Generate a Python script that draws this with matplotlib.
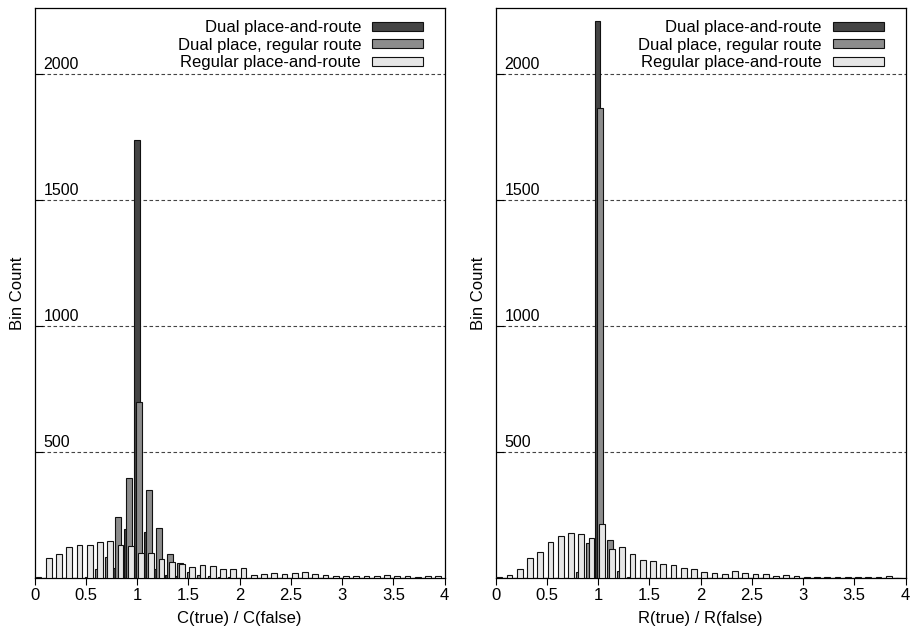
import matplotlib
matplotlib.use('Agg')
import matplotlib.pyplot as plt
import numpy as np
from matplotlib.transforms import blended_transform_factory, offset_copy

plt.rcParams['font.family'] = ['Liberation Sans', 'DejaVu Sans']

# ---- data (bin count per 0.1-wide bin, bins starting at 0.0 ... 3.9) ----
bin_starts = np.arange(40) / 10.0

c_dual_pr = [0, 0, 0, 0, 0, 0, 0, 0, 38, 193, 1738, 181, 36, 11, 7, 0, 0, 0, 0, 0,
             0, 0, 0, 0, 0, 0, 0, 0, 0, 0, 0, 0, 0, 0, 0, 0, 0, 0, 0, 0]
c_dual_place = [0, 0, 0, 0, 0, 3, 34, 82, 242, 396, 698, 349, 197, 94, 58, 22, 13, 7, 3, 3,
                0, 0, 0, 0, 0, 0, 0, 0, 0, 0, 0, 0, 0, 0, 0, 0, 0, 0, 0, 0]
c_regular = [4, 79, 94, 124, 131, 132, 144, 145, 130, 127, 98, 98, 75, 65, 57, 44, 50, 48, 36, 36,
             41, 13, 17, 21, 15, 19, 24, 15, 13, 9, 8, 8, 9, 8, 11, 7, 8, 4, 9, 9]

r_dual_pr = [0, 0, 0, 0, 0, 0, 0, 0, 0, 0, 2210, 0, 0, 0, 0, 0, 0, 0, 0, 0,
             0, 0, 0, 0, 0, 0, 0, 0, 0, 0, 0, 0, 0, 0, 0, 0, 0, 0, 0, 0]
r_dual_place = [0, 0, 0, 0, 0, 0, 0, 0, 24, 138, 1865, 149, 26, 3, 0, 0, 0, 0, 0, 0,
                0, 0, 0, 0, 0, 0, 0, 0, 0, 0, 0, 0, 0, 0, 0, 0, 0, 0, 0, 0]
r_regular = [2, 11, 36, 78, 102, 142, 167, 180, 175, 160, 213, 116, 124, 95, 71, 66, 56, 52, 38, 36,
             25, 20, 16, 26, 20, 15, 15, 8, 11, 8, 3, 5, 3, 5, 5, 5, 5, 3, 9, 1]

series_labels = ['Dual place-and-route', 'Dual place, regular route', 'Regular place-and-route']
series_colors = ['#444444', '#8c8c8c', '#e6e6e6']
x_ticks = [0, 0.5, 1, 1.5, 2, 2.5, 3, 3.5, 4]
x_tick_labels = ['0', '0.5', '1', '1.5', '2', '2.5', '3', '3.5', '4']
y_ticks = [500, 1000, 1500, 2000]
y_tick_labels = ['500', '1000', '1500', '2000']
x_labels = ['C(true) / C(false)', 'R(true) / R(false)']

panels = [(c_dual_pr, c_dual_place, c_regular), (r_dual_pr, r_dual_place, r_regular)]

fig = plt.figure(figsize=(9.13, 6.33), dpi=100)
W, H = 913.0, 633.0
ax_lefts = [34.7, 495.5]
offsets = [-0.005, 0.016, 0.037]
bar_w = 0.057

for i, (series, xl) in enumerate(zip(panels, x_labels)):
    ax = fig.add_axes([ax_lefts[i] / W, 55 / H, 410 / W, 570 / H])
    for j, vals in enumerate(series):
        ax.bar(bin_starts + offsets[j], vals, width=bar_w, color=series_colors[j],
               edgecolor='#111111', linewidth=0.8, label=series_labels[j], zorder=2 + j,
               align='center')
    ax.set_xlim(0, 4)
    ax.set_ylim(0, 2262)
    for yv in y_ticks:
        ax.axhline(yv, color='#444444', lw=0.8, linestyle=(0, (3.2, 2.2)), zorder=1)
    ax.set_yticks(y_ticks)
    ax.set_yticklabels([])
    ax.tick_params(axis='y', direction='in', length=6, width=0.8)
    ax.set_xticks(x_ticks)
    ax.set_xticklabels(x_tick_labels, fontsize=12)
    ax.tick_params(axis='x', direction='out', length=5, width=0.8, pad=2)
    tr = offset_copy(blended_transform_factory(ax.transAxes, ax.transData), fig=fig, y=1.5, units='points')
    for yv, lab in zip(y_ticks, y_tick_labels):
        ax.text(0.022, yv, lab, transform=tr, ha='left', va='bottom', fontsize=11.5, zorder=6)
    for sp in ax.spines.values():
        sp.set_linewidth(0.9)
        sp.set_color('black')
    ax.set_xlabel(xl, fontsize=12, labelpad=6)
    ax.set_ylabel('Bin Count', fontsize=12)
    ax.yaxis.set_label_coords(-0.024, 0.5)
    ax.legend(loc='upper right', bbox_to_anchor=(0.948, 0.979), borderaxespad=0, borderpad=0,
              handlelength=3.1, handleheight=0.45, handletextpad=0.64, labelspacing=0.16,
              markerfirst=False, frameon=False, fontsize=12)

fig.savefig('out.png', dpi=100)
